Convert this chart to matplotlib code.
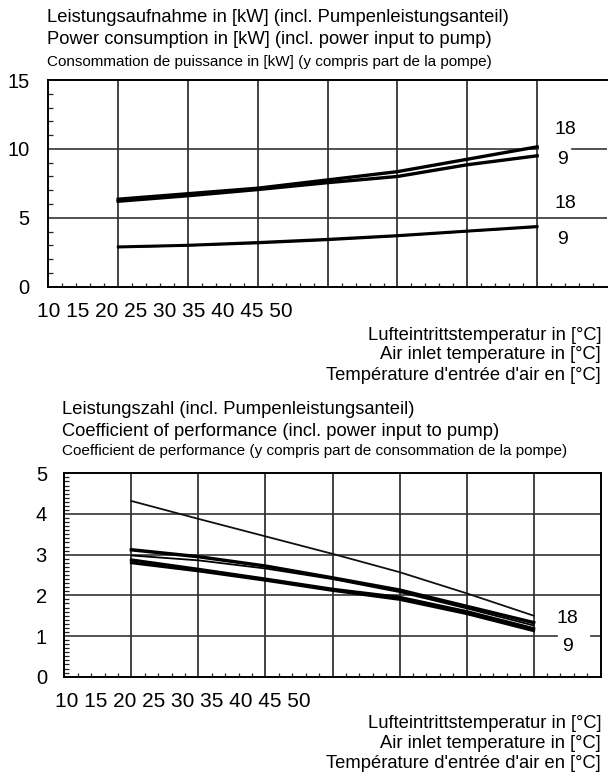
import matplotlib
matplotlib.use("Agg")
import matplotlib.pyplot as plt
from matplotlib import ticker

plt.rcParams["font.family"] = ["Liberation Sans", "DejaVu Sans"]

# Lufteintrittstemperatur [°C]
temps = [15, 20, 25, 30, 35, 40, 45]

# Leistungsaufnahme [kW]
p_hoch_18 = [6.35, 6.75, 7.15, 7.75, 8.35, 9.25, 10.15]
p_hoch_9 = [6.2, 6.6, 7.05, 7.55, 8.0, 8.85, 9.5]
p_tief_18 = [2.9, 3.02, 3.22, 3.45, 3.72, 4.05, 4.38]
p_tief_9 = [2.85, 2.97, 3.15, 3.38, 3.66, 4.0, 4.32]

# Leistungszahl
cop_duenn = [4.32, 3.88, 3.45, 3.02, 2.57, 2.05, 1.5]
cop_a = [3.12, 2.95, 2.72, 2.43, 2.13, 1.73, 1.33]
cop_b = [2.98, 2.86, 2.66, 2.4, 2.08, 1.68, 1.26]
cop_c = [2.87, 2.64, 2.4, 2.15, 1.95, 1.6, 1.18]
cop_d = [2.8, 2.6, 2.37, 2.12, 1.9, 1.55, 1.13]

x_labels = "10 15 20 25 30 35 40 45 50"
titel_oben = ["Leistungsaufnahme in [kW] (incl. Pumpenleistungsanteil)",
              "Power consumption in [kW] (incl. power input to pump)",
              "Consommation de puissance in [kW] (y compris part de la pompe)"]
titel_unten = ["Leistungszahl (incl. Pumpenleistungsanteil)",
               "Coefficient of performance (incl. power input to pump)",
               "Coefficient de performance (y compris part de consommation de la pompe)"]
x_titel = ["Lufteintrittstemperatur in [°C]",
           "Air inlet temperature in [°C]",
           "Température d'entrée d'air en [°C]"]

W, H = 612, 776
fig = plt.figure(figsize=(W / 100, H / 100), dpi=100)


def px(x, y):
    return x / W, 1 - y / H


def achse(rect, ymax, ymajor, yminor, gaps, pad, right_spine=True):
    ax = fig.add_axes(rect)
    ax.set_xlim(10, 50)
    ax.set_ylim(0, ymax)
    for sp in ax.spines.values():
        sp.set_linewidth(1.4)
    ax.spines["right"].set_visible(right_spine)
    ax.xaxis.set_major_locator(ticker.MultipleLocator(5))
    ax.xaxis.set_minor_locator(ticker.MultipleLocator(1))
    ax.yaxis.set_major_locator(ticker.MultipleLocator(ymajor))
    ax.yaxis.set_minor_locator(ticker.MultipleLocator(yminor))
    ax.tick_params(which="major", length=0)
    ax.tick_params(which="minor", direction="in", length=3, width=0.9, color="#222")
    ax.tick_params(axis="y", which="minor", length=3.5)
    ax.tick_params(axis="x", labelbottom=False)
    ax.tick_params(axis="y", labelsize=14.5, pad=pad)
    for v in range(15, 50, 5):
        ax.axvline(v, color="#222", lw=1.2, zorder=1)
    for h in ax.get_yticks():
        if 0 < h < ymax:
            if h in gaps:
                a, b = gaps[h]
                ax.axhline(h, xmax=a, color="#333", lw=1.2, zorder=1)
                ax.axhline(h, xmin=b, color="#333", lw=1.2, zorder=1)
            else:
                ax.axhline(h, color="#333", lw=1.2, zorder=1)
    return ax


# oben
ax1 = achse([48.3 / W, 1 - 286.7 / H, 558.7 / W, 206.7 / H], 15, 5, 1,
            {10: (0.877, 0.937)}, 13.5, right_spine=False)
ax1.plot(temps, p_hoch_18, color="black", lw=2.4, zorder=3)
ax1.plot(temps, p_hoch_9, color="black", lw=2.4, zorder=3)
ax1.plot(temps, p_tief_18, color="black", lw=1.9, zorder=3)
ax1.plot(temps, p_tief_9, color="black", lw=1.5, zorder=3)
for txt, x, y in [("18", 47.0, 11.43), ("9", 46.8, 9.25), ("18", 47.0, 6.07), ("9", 46.8, 3.46)]:
    ax1.text(x, y, txt, fontsize=14, ha="center", va="center")

# unten
ax2 = achse([64.3 / W, 1 - 676.7 / H, 536.4 / W, 203.4 / H], 5, 1, 0.1,
            {1: (0.918, 0.981)}, 12.5)
ax2.plot(temps, cop_duenn, color="#111", lw=1.3, zorder=3)
ax2.plot(temps, cop_a, color="black", lw=2.5, zorder=3)
ax2.plot(temps, cop_b, color="black", lw=1.3, zorder=3)
ax2.plot(temps, cop_c, color="black", lw=2.3, zorder=3)
ax2.plot(temps, cop_d, color="black", lw=2.1, zorder=3)
for txt, x, y in [("18", 47.5, 1.44), ("9", 47.55, 0.75)]:
    ax2.text(x, y, txt, fontsize=14, ha="center", va="center")

# Texte
for (x0, ys), lines in [((47, [18, 39.5, 62]), titel_oben), ((62.5, [410, 431, 451]), titel_unten)]:
    for i, (t, y) in enumerate(zip(lines, ys)):
        if i < 2:
            fig.text(*px(x0, y), t, fontsize=13.2, ha="left", va="center")
        else:
            fig.text(*px(x0, y), t, fontsize=11, ha="left", va="center")

fig.text(*px(37, 311.7), x_labels, fontsize=15, ha="left", va="center")
fig.text(*px(55, 701.7), x_labels, fontsize=15, ha="left", va="center")

for ys in ([335, 355, 375], [723, 743.5, 764]):
    for t, y in zip(x_titel, ys):
        fig.text(*px(601, y), t, fontsize=13.2, ha="right", va="center")

fig.savefig("out.png", dpi=100)
